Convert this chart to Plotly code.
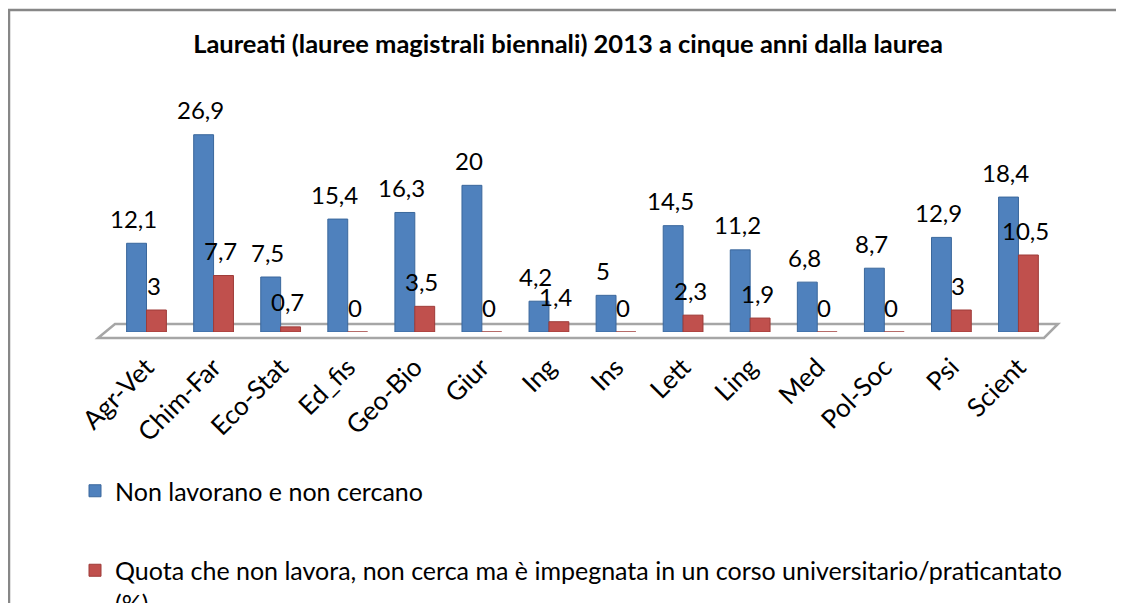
import plotly.graph_objects as go

# ---- data ----
categories = ["Agr-Vet", "Chim-Far", "Eco-Stat", "Ed_fis", "Geo-Bio", "Giur", "Ing",
              "Ins", "Lett", "Ling", "Med", "Pol-Soc", "Psi", "Scient"]
non_lavorano = [12.1, 26.9, 7.5, 15.4, 16.3, 20, 4.2, 5, 14.5, 11.2, 6.8, 8.7, 12.9, 18.4]
quota_corso = [3, 7.7, 0.7, 0, 3.5, 0, 1.4, 0, 2.3, 1.9, 0, 0, 3, 10.5]
series_names = [
    "Non lavorano e non cercano",
    "Quota che non lavora, non cerca ma è impegnata in un corso universitario/praticantato<br>(%)",
]
title_text = "Laureati (lauree magistrali biennali) 2013 a cinque anni dalla laurea"

# ---- layout geometry ----
# The page body adds an 8px margin, so the figure is placed at (8, 8) of the window.
OFF = 8
W, H = 1124 - OFF, 603 - OFF
L, R, T, B = 100, 72, 104, 271
PW, PH = W - L - R, H - T - B


def px(x):
    """window x pixel -> paper x"""
    return (x - OFF - L) / PW


def py(y):
    """window y pixel -> paper y"""
    return (H - B - (y - OFF)) / PH


def fmt(v):
    return f"{v:g}".replace(".", ",")


BLUE = "#4F81BD"
RED = "#C0504D"
FONT = "Lato"

fig = go.Figure()
fig.add_trace(go.Bar(
    x=categories, y=non_lavorano, name=series_names[0], legendgroup="a",
    marker=dict(color=BLUE, line=dict(color="#3A679C", width=1)),
))
fig.add_trace(go.Bar(
    x=categories, y=quota_corso, name=series_names[1], legendgroup="b",
    marker=dict(color=RED, line=dict(color="#9E3B38", width=1)),
))

annotations = []
for c, v in zip(categories, non_lavorano):
    annotations.append(dict(x=c, y=v, text=fmt(v), showarrow=False, xshift=-13, yshift=25,
                            yanchor="middle", font=dict(family=FONT, size=24, color="black")))
for c, v in zip(categories, quota_corso):
    annotations.append(dict(x=c, y=v, text=fmt(v), showarrow=False, xshift=7, yshift=25,
                            yanchor="middle", font=dict(family=FONT, size=24, color="black")))

shapes = [
    # chart frame (right and bottom edges lie outside the picture)
    dict(type="rect", xref="paper", yref="paper", x0=px(9), x1=px(1140), y0=py(650), y1=py(10),
         line=dict(color="#878787", width=2.5), fillcolor="rgba(0,0,0,0)", layer="below"),
    # 3D floor
    dict(type="path", xref="paper", yref="paper", layer="below",
         path=f"M {px(98)},{py(338)} L {px(115)},{py(324)} L {px(1058)},{py(324)} L {px(1044)},{py(338)} Z",
         line=dict(color="#A6A6A6", width=2.5), fillcolor="white"),
]

fig.update_layout(
    width=W, height=H,
    margin=dict(l=L, r=R, t=T, b=B, autoexpand=False),
    paper_bgcolor="white", plot_bgcolor="rgba(0,0,0,0)",
    barmode="group", bargap=0.407, bargroupgap=0,
    title=dict(text=f"<b>{title_text}</b>", x=(568 - OFF) / W, xanchor="center",
               y=1 - (44 - OFF) / H, yanchor="middle",
               font=dict(family=FONT, size=25.5, color="black")),
    xaxis=dict(tickangle=-45, tickfont=dict(family=FONT, size=26, color="black"),
               showgrid=False, zeroline=False, showline=False, ticks="",
               ticklabelstandoff=14),
    yaxis=dict(range=[0, 30], visible=False),
    legend=dict(x=px(75), xanchor="left", y=py(468), yanchor="top",
                font=dict(family=FONT, size=25, color="black"),
                traceorder="grouped", tracegroupgap=44, valign="top",
                bgcolor="rgba(0,0,0,0)"),
    annotations=annotations,
    shapes=shapes,
    showlegend=True,
)

fig.write_html("out.html")
